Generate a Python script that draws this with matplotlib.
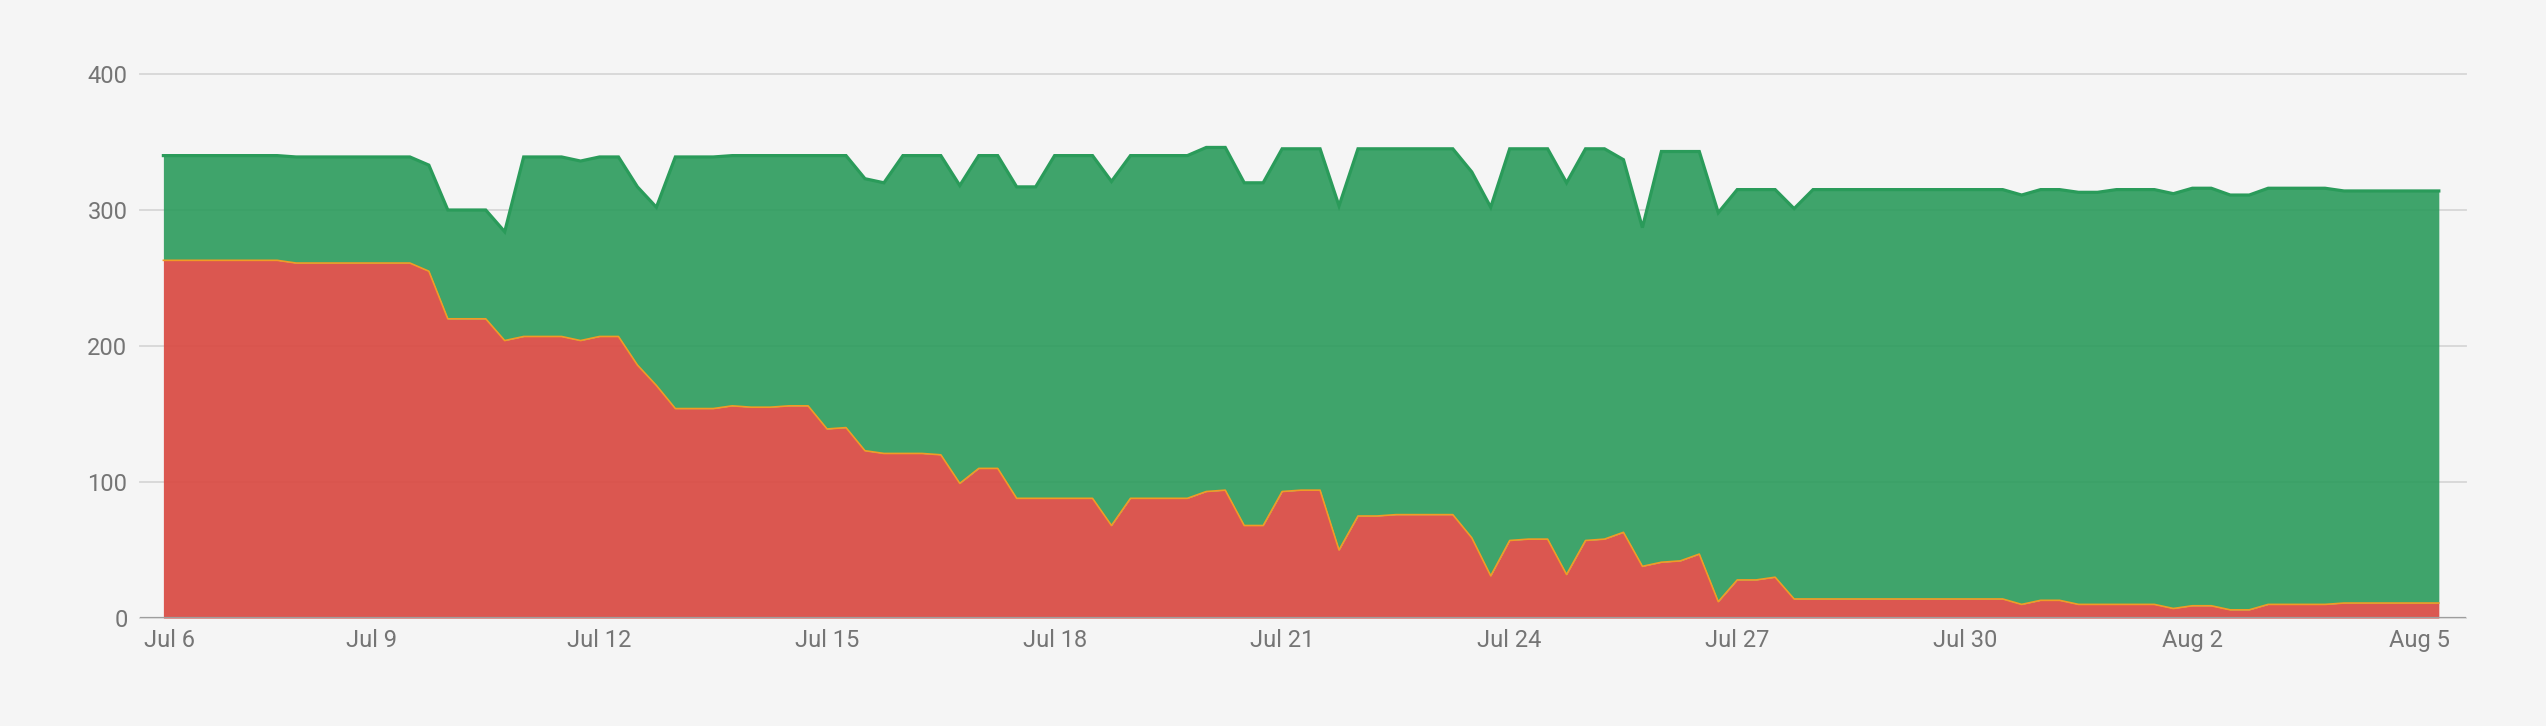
import numpy
import pandas
import matplotlib
matplotlib.use('Agg')
import matplotlib.pyplot as plt


######################################################################
# Data (one sample every 6 hours)
######################################################################

times = pandas.date_range('2021-07-06 06:00', periods=121, freq='6h')

# bottom (red) series
failing = [
    263, 263, 263, 263, 263, 263, 263,          # k0-6
    261, 261, 261, 261, 261, 261, 261,          # k7-13
    255, 220, 220, 220, 204, 207, 207, 207,     # k14-21
    204, 207, 207, 186, 171, 154, 154, 154,     # k22-29
    156, 155, 155, 156, 156, 139, 140, 123,     # k30-37
    121, 121, 121, 120, 99, 110, 110, 88,       # k38-45
    88, 88, 88, 88, 68, 88, 88, 88,             # k46-53
    88, 93, 94, 68, 68, 93, 94, 94,             # k54-61
    50, 75, 75, 76, 76, 76, 76, 59,             # k62-69
    31, 57, 58, 58, 32, 57, 58, 63,             # k70-77
    38, 41, 42, 47, 12, 28, 28, 30,             # k78-85
    14, 14, 14, 14, 14, 14, 14, 14,             # k86-93
    14, 14, 14, 14, 10, 13, 13, 10,             # k94-101
    10, 10, 10, 10, 7, 9, 9, 6,                 # k102-109
    6, 10, 10, 10, 10, 11, 11, 11,              # k110-117
    11, 11, 11                                  # k118-120
]

# top of the stack (red + green)
total = [
    340, 340, 340, 340, 340, 340, 340,          # k0-6
    339, 339, 339, 339, 339, 339, 339,          # k7-13
    333, 300, 300, 300, 284, 339, 339, 339,     # k14-21
    336, 339, 339, 317, 302, 339, 339, 339,     # k22-29
    340, 340, 340, 340, 340, 340, 340, 323,     # k30-37
    320, 340, 340, 340, 318, 340, 340, 317,     # k38-45
    317, 340, 340, 340, 321, 340, 340, 340,     # k46-53
    340, 346, 346, 320, 320, 345, 345, 345,     # k54-61
    303, 345, 345, 345, 345, 345, 345, 328,     # k62-69
    302, 345, 345, 345, 320, 345, 345, 337,     # k70-77
    287, 343, 343, 343, 298, 315, 315, 315,     # k78-85
    301, 315, 315, 315, 315, 315, 315, 315,     # k86-93
    315, 315, 315, 315, 311, 315, 315, 313,     # k94-101
    313, 315, 315, 315, 312, 316, 316, 311,     # k102-109
    311, 316, 316, 316, 316, 314, 314, 314,     # k110-117
    314, 314, 314                               # k118-120
]

tick_dates = pandas.date_range('2021-07-06', periods=11, freq='3D')
tick_labels = [
    'Jul 6', 'Jul 9', 'Jul 12', 'Jul 15', 'Jul 18', 'Jul 21',
    'Jul 24', 'Jul 27', 'Jul 30', 'Aug 2', 'Aug 5'
]
y_ticks = [0, 100, 200, 300, 400]


######################################################################
# Style
######################################################################

background = '#f5f5f5'
red_fill = '#d94a42'
green_fill = '#2f9d5f'
green_line = '#2a9b5a'
orange_line = '#f29b24'
text_color = '#757575'

plt.rcParams['font.family'] = ['Roboto', 'DejaVu Sans']


######################################################################
# Figure
######################################################################

fig = plt.figure(figsize=(25.46, 7.26), dpi=100, facecolor=background)
ax = fig.add_axes([140 / 2546, 1 - 618 / 726, 2326 / 2546, 544 / 726])
ax.set_facecolor(background)

ax.fill_between(times, 0, failing, color=red_fill, alpha=0.92,
                linewidth=0, zorder=2)
ax.fill_between(times, failing, total, color=green_fill, alpha=0.92,
                linewidth=0, zorder=2)
ax.plot(times, total, color=green_line, linewidth=2.3,
        solid_joinstyle='miter', zorder=3)
ax.plot(times, failing, color=orange_line, linewidth=1.2, zorder=3)

ax.axhline(0, color='#9e9e9e', linewidth=1.6, zorder=5)

ax.set_ylim(0, 400)
ax.set_xlim(
    pandas.Timestamp('2021-07-06') - pandas.Timedelta(hours=1.4),
    pandas.Timestamp('2021-08-05') + pandas.Timedelta(hours=14.6)
)

ax.set_yticks(y_ticks)
ax.set_xticks(tick_dates)
ax.set_xticklabels(tick_labels)

ax.yaxis.grid(True, color='#d6d6d6', linewidth=1.3)
ax.set_axisbelow(True)
for gl in ax.get_ygridlines():
    gl.set_clip_on(False)

ax.tick_params(axis='both', length=0, labelsize=17, labelcolor=text_color)
ax.tick_params(axis='y', pad=9)
ax.tick_params(axis='x', pad=8)

# first label sits against the left edge like the reference
ax.get_xticklabels()[0].set_horizontalalignment('left')

for spine in ax.spines.values():
    spine.set_visible(False)

fig.savefig('out.png', dpi=100, facecolor=background)
